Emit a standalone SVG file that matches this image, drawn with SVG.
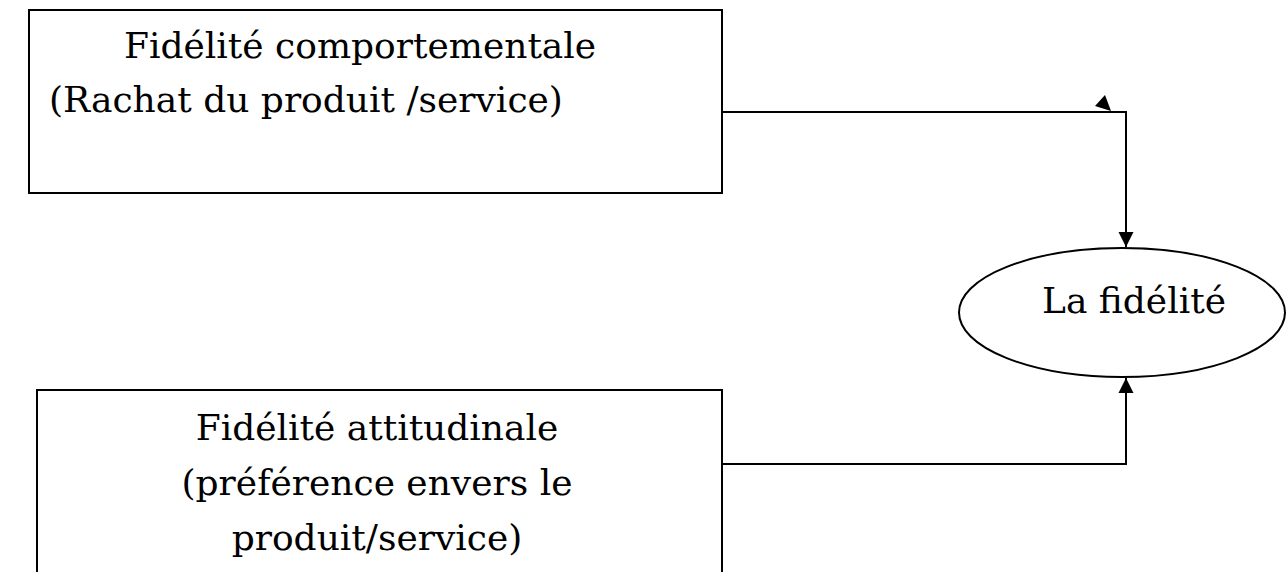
<svg xmlns="http://www.w3.org/2000/svg" width="1286" height="572" viewBox="0 0 1286 572">
  <style>
    .box { fill: #fff; stroke: #000; stroke-width: 2; }
    .conn { fill: none; stroke: #000; stroke-width: 2; }
    .lbl { font-family: "DejaVu Serif", "Liberation Serif", serif; font-size: 36px; fill: #000; }
  </style>
  <defs>
    <marker id="arrow" viewBox="0 0 10 10" refX="10" refY="5" markerWidth="15" markerHeight="16" markerUnits="userSpaceOnUse" orient="auto">
      <path d="M0,0 L10,5 L0,10 z" fill="#000"/>
    </marker>
  </defs>
  <rect width="1286" height="572" fill="#fff"/>

  <g id="node-comportementale">
    <rect class="box" x="29" y="10" width="693" height="183"/>
    <text class="lbl" x="124" y="58">Fidélité comportementale</text>
    <text class="lbl" x="49" y="112">(Rachat du produit /service)</text>
  </g>

  <g id="node-attitudinale">
    <rect class="box" x="37" y="390" width="685" height="190"/>
    <text class="lbl" x="377" y="440" text-anchor="middle">Fidélité attitudinale</text>
    <text class="lbl" x="377" y="495" text-anchor="middle">(préférence envers le</text>
    <text class="lbl" x="377" y="550" text-anchor="middle">produit/service)</text>
  </g>

  <g id="node-fidelite">
    <ellipse class="box" cx="1122" cy="312.5" rx="163" ry="64.5"/>
    <text class="lbl" x="1042" y="313">La fidélité</text>
  </g>

  <g id="connectors">
    <path class="conn" d="M722,112 H1126 V247" marker-end="url(#arrow)"/>
    <path class="conn" d="M722,464 H1126 V378" marker-end="url(#arrow)"/>
    <polygon points="1105,95 1095,106 1111,111" fill="#000"/>
  </g>
</svg>
